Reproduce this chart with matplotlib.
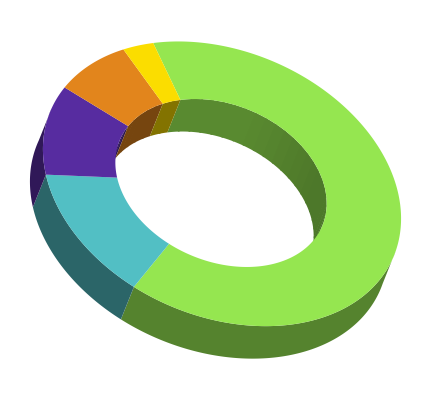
import numpy as np
import matplotlib
matplotlib.use('Agg') #batch mode
import matplotlib.pyplot as plt
from matplotlib.colors import to_rgb

# slices, clockwise from the green/yellow boundary
labels = ["green", "teal", "purple", "orange", "yellow"]
values = [64.4, 13.9, 10.8, 7.8, 3.0]
colors = ["#95E650", "#52BFC4", "#572CA0", "#E2851C", "#FBDD00"]
side_shades = [0.57, 0.53, 0.55, 0.57, 0.57]

# tilted ellipse of the top face, in pixels
center = np.array([222.0, 184.8])
tilt = np.array([[178.0, 19.5], [19.5, 141.0]])
inner_ratio = 0.59
inner_center = np.array([221.0, 184.0])
depth = np.array([-13.0, 32.5])
start_angle = -16.35

# which way the wall faces, walls turned away are not drawn
facing = np.linalg.inv(tilt) @ depth


def unit_point(ang):
  t = np.radians(ang)
  return np.stack([np.sin(t), -np.cos(t)])


def ring_point(ang, ratio, c):
  return (c[:, None] + ratio*tilt @ unit_point(ang)).T


def shade(col, f):
  return tuple(np.array(to_rgb(col))*f)


def wall(ang, ratio, c, col, f, z):
  seg = ring_point(ang, ratio, c)
  poly = np.vstack([seg, seg[::-1] + depth])
  ax.fill(poly[:, 0], poly[:, 1], color=shade(col, f), lw=0, zorder=z)


fig = plt.figure(figsize=(4.29, 4.02), dpi=100)
ax = fig.add_axes([0, 0, 1, 1])
ax.set_xlim(0, 429)
ax.set_ylim(402, 0)
ax.axis("off")

edges = start_angle + 360*np.cumsum([0] + values)/sum(values)

# walls first, top face last so it hides their upper edge
for a0, a1, col, fs in zip(edges[:-1], edges[1:], colors, side_shades):
  ang = np.linspace(a0, a1, int(a1 - a0)*2 + 4)
  d = facing @ unit_point(ang)

  vis = ang[d > -0.01]
  if len(vis) > 1:
    wall(vis, 1.0, center, col, fs, 1)

  vis = ang[d < 0.02]
  # far wall gets darker towards the right, so it goes in short overlapping runs
  for k in range(0, len(vis) - 1, 12):
    run = vis[k:k + 15]
    if len(run) > 1:
      f = np.interp(run[0], [-20, 20, 70, 120], [0.6, 0.6, 0.52, 0.52])
      wall(run, inner_ratio, inner_center, col, f, 2)

for a0, a1, col in zip(edges[:-1], edges[1:], colors):
  ang = np.linspace(a0, a1, max(int(a1 - a0), 4)*2)
  outer = ring_point(ang, 1.0, center)
  inner = ring_point(ang[::-1], inner_ratio, inner_center)
  poly = np.vstack([outer, inner])
  ax.fill(poly[:, 0], poly[:, 1], color=col, lw=0, zorder=3)

fig.savefig("out.png", dpi=100, facecolor="white")
plt.close()
